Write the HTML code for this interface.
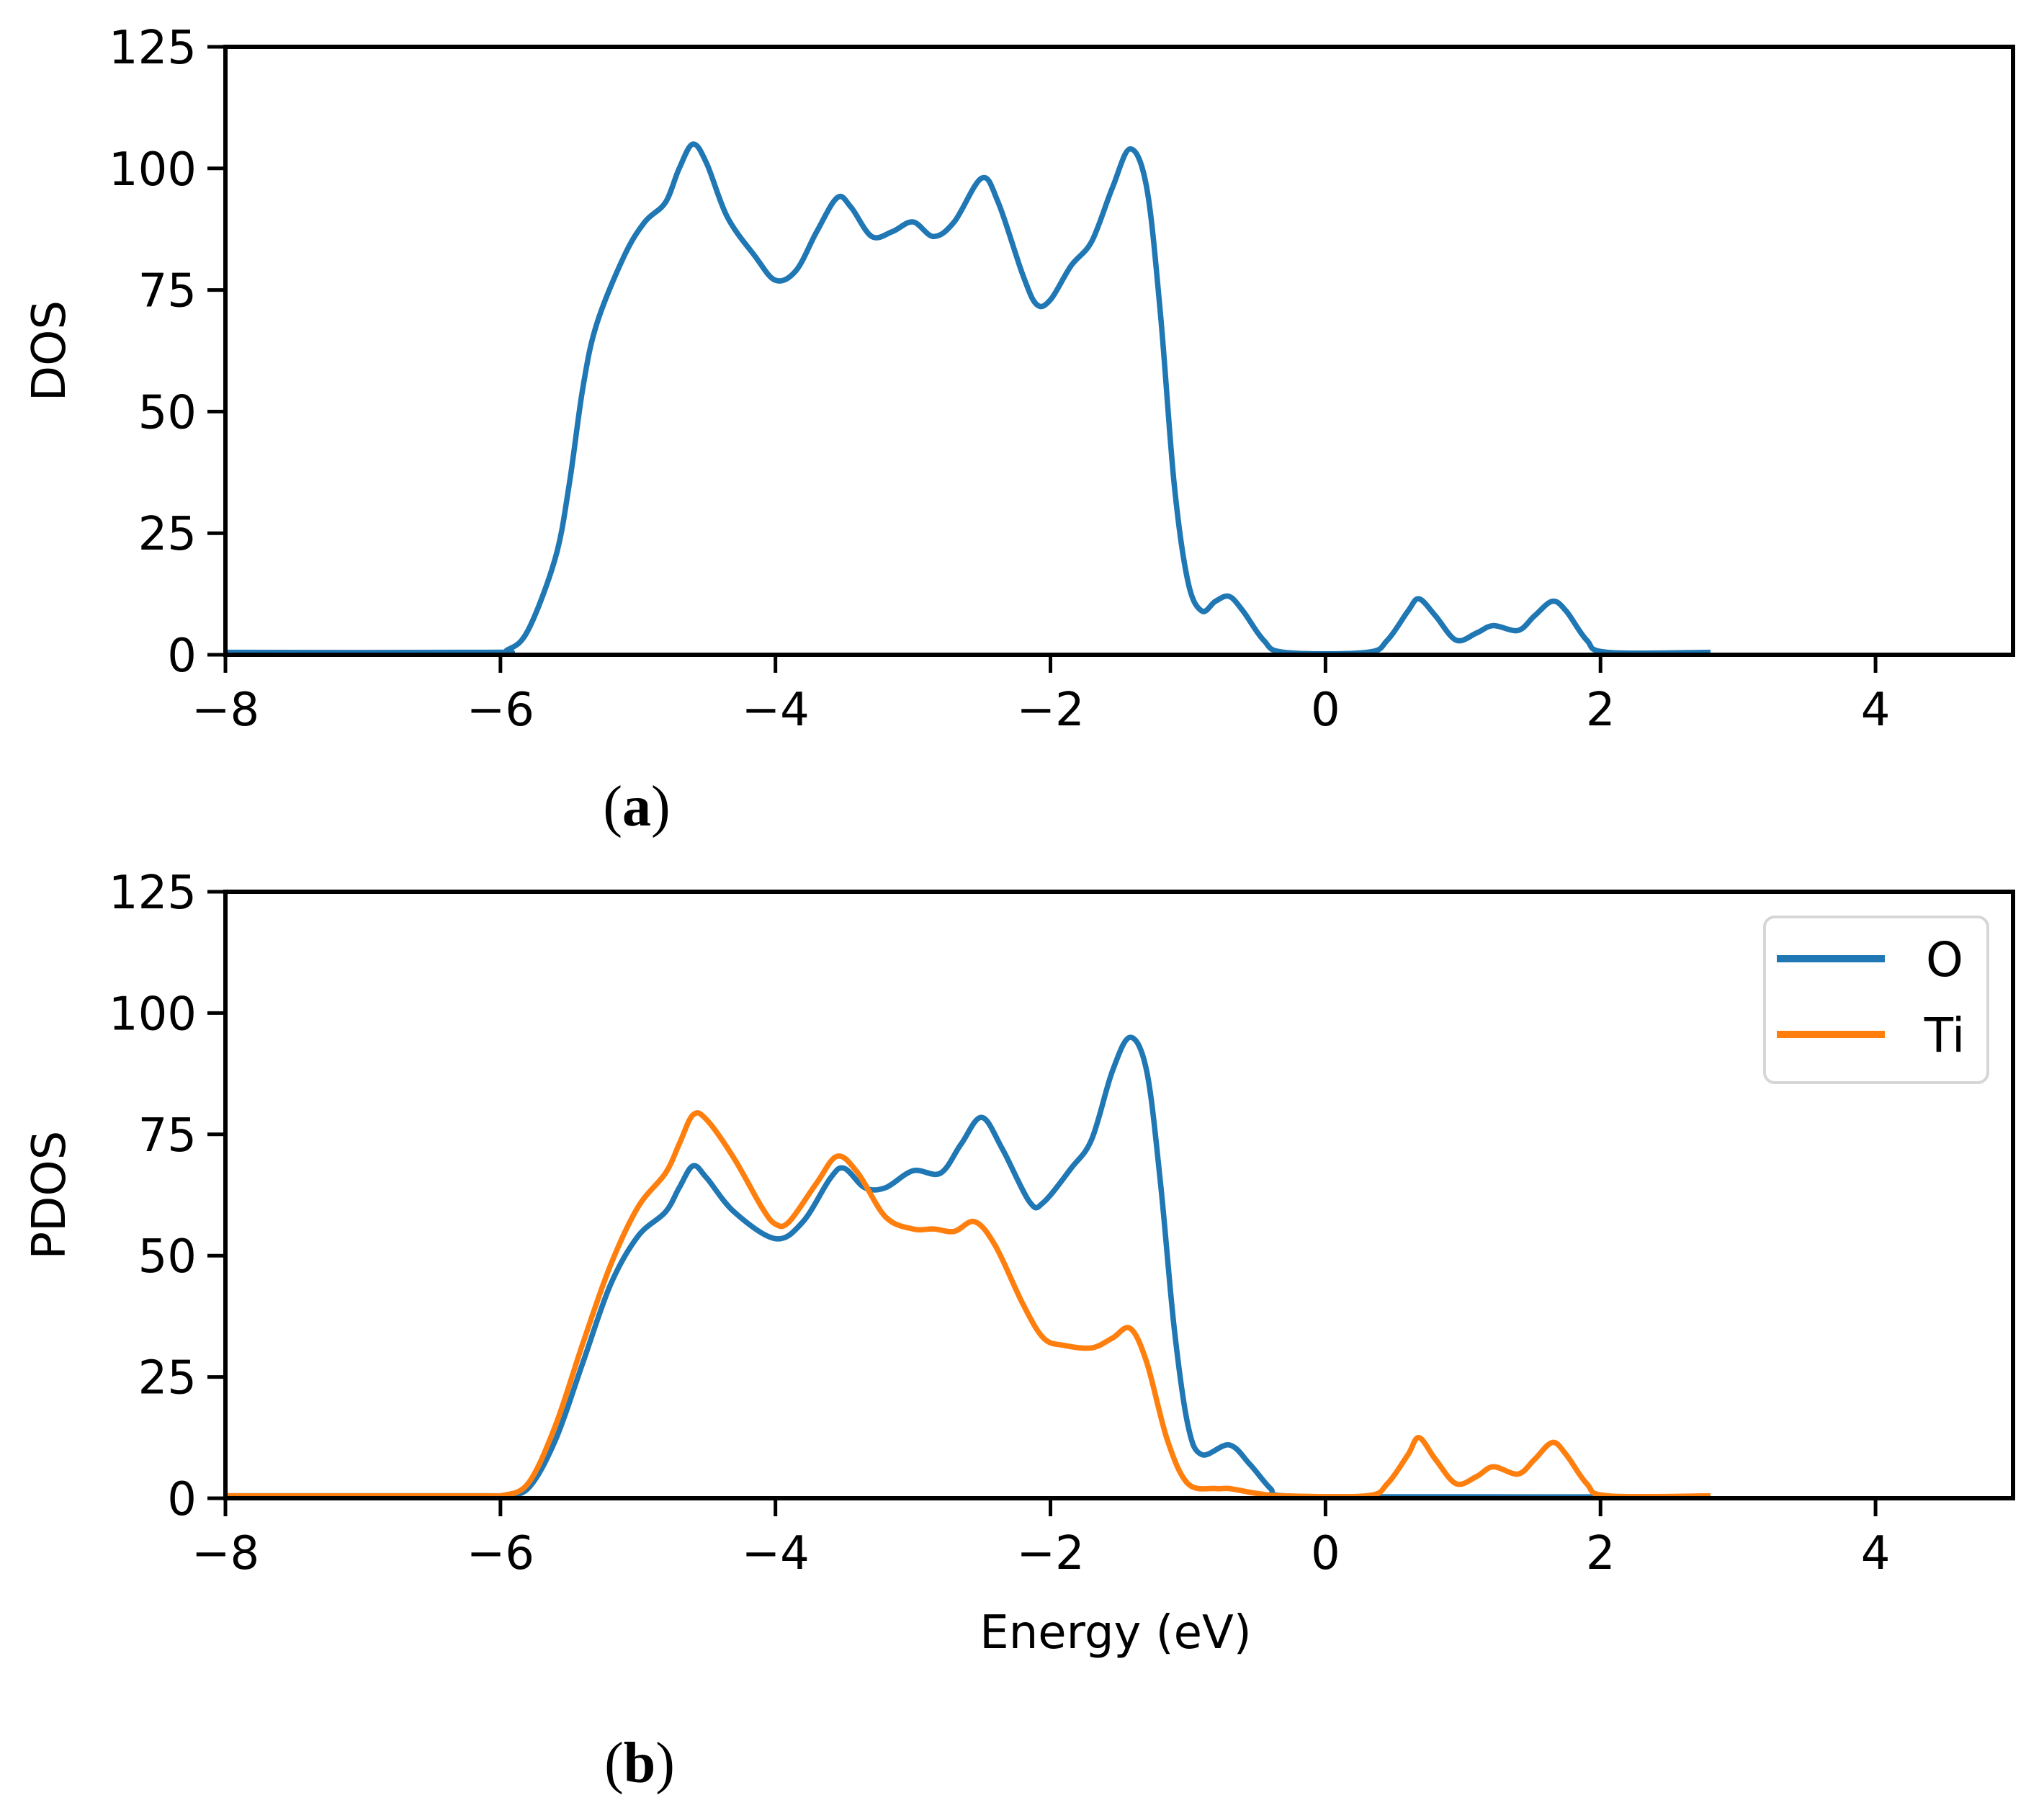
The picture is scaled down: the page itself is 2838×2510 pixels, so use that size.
<!DOCTYPE html>
<html><head><meta charset="utf-8"><style>
body{margin:0;background:#fff}
svg{display:block}
text{font-family:"DejaVu Sans","Liberation Sans",sans-serif;fill:#000}
</style></head><body>
<svg id="chart" width="2838" height="2510" viewBox="0 0 2838 2510" xmlns="http://www.w3.org/2000/svg">
<g id="pa"></g>
<g id="pb"></g>
<text x="884" y="1146" text-anchor="middle" style="font-family:'Liberation Serif',serif;font-size:80px">(<tspan font-weight="bold">a</tspan>)</text>
<text x="888" y="2474" text-anchor="middle" style="font-family:'Liberation Serif',serif;font-size:80px">(<tspan font-weight="bold">b</tspan>)</text>
</svg>
<script>
const xTicks=[-8,-6,-4,-2,0,2,4];
const yTicks=[0,25,50,75,100,125];
const dosE=[-8,-6.1,-5.95,-5.8,-5.6,-5.5,-5.4,-5.3,-5.1,-4.95,-4.8,-4.7,-4.6,-4.5,-4.35,-4.15,-4.0,-3.85,-3.7,-3.55,-3.45,-3.3,-3.15,-3.0,-2.85,-2.7,-2.5,-2.38,-2.2,-2.1,-2.0,-1.85,-1.7,-1.55,-1.42,-1.3,-1.2,-1.1,-1.0,-0.9,-0.8,-0.7,-0.6,-0.45,-0.3,0.3,0.45,0.6,0.68,0.8,0.95,1.1,1.22,1.4,1.52,1.65,1.75,1.9,2.05,2.8];
const dosV=[0.5,0.5,1,5,20,35,55,68,82,89,93,100,105,101,90,82,77,79,87,94,92,86,87,89,86,89,98,93,78,72,73,80,85,96,104,96,70,35,15,9,11,12,9,3,0.5,0.5,3,9,11.5,8,3,4.5,6,5,8,11,9,3,0.5,0.5];
const tiE=[-8,-6.1,-6,-5.8,-5.6,-5.4,-5.2,-5.0,-4.8,-4.7,-4.6,-4.5,-4.3,-4.1,-4.0,-3.9,-3.7,-3.55,-3.4,-3.2,-3.0,-2.85,-2.7,-2.55,-2.4,-2.2,-2.05,-1.9,-1.7,-1.55,-1.42,-1.3,-1.15,-1.0,-0.8,-0.7,-0.5,-0.3,0.3,0.45,0.6,0.68,0.8,0.95,1.1,1.22,1.4,1.52,1.65,1.75,1.9,2.05,2.8];
const tiV=[0.5,0.5,0.5,3,15,32,48,60,67,73,79,78,70,60,56.5,57,65,70.5,67,58,55.5,55.5,55,57,52,40,33,31.5,31,33,35,28,12,3,2,2,1,0.5,0.5,3,9,12.5,8,3,4.5,6.5,5,8,11.5,9,3,0.5,0.5];
const oE=[-8,-6.1,-6,-5.8,-5.6,-5.4,-5.2,-5.0,-4.8,-4.7,-4.6,-4.5,-4.3,-4.0,-3.8,-3.6,-3.5,-3.35,-3.2,-3.0,-2.8,-2.65,-2.5,-2.35,-2.15,-2.05,-1.85,-1.7,-1.55,-1.42,-1.3,-1.2,-1.1,-1.0,-0.9,-0.7,-0.55,-0.4,-0.3,0.5,2.8];
const oV=[0.5,0.5,0.5,2,12,28,44,54,59,64,68.5,66,59,53.5,57,66,68,64,64,67.5,67,73,78.5,72,61,61,68,74,88,95,88,65,35,15,9,11,7,2,0.5,0.3,0.3];

const NS="http://www.w3.org/2000/svg";
const L=313,R=2795,XMIN=-8,XMAX=5,YMAX=125;
function mk(p,tag,at){const e=document.createElementNS(NS,tag);for(const k in at)e.setAttribute(k,at[k]);p.appendChild(e);return e;}
function smooth(pts){let d=`M${pts[0][0]},${pts[0][1]}`;for(let i=0;i<pts.length-1;i++){const p0=pts[Math.max(0,i-1)],p1=pts[i],p2=pts[i+1],p3=pts[Math.min(pts.length-1,i+2)];
const c1=[p1[0]+(p2[0]-p0[0])/6,p1[1]+(p2[1]-p0[1])/6],c2=[p2[0]-(p3[0]-p1[0])/6,p2[1]-(p3[1]-p1[1])/6];d+=`C${c1[0]},${c1[1]} ${c2[0]},${c2[1]} ${p2[0]},${p2[1]}`;}return d;}
function panel(g,T,B,ylabel,series,xlabel){
  const sx=v=>L+(v-XMIN)/(XMAX-XMIN)*(R-L), sy=v=>B-v/YMAX*(B-T);
  series.forEach(s=>{
    const p=mk(g,'path',{d:smooth(s.e.map((e,i)=>[sx(e),sy(s.v[i])])),fill:'none',stroke:s.c,'stroke-width':7.5,'stroke-linejoin':'round'});
    
    
  });
  const f=mk(g,'rect',{x:L,y:T,width:R-L,height:B-T,fill:'none',stroke:'#000','stroke-width':6});
  
  
  xTicks.forEach(v=>{
    mk(g,'line',{x1:sx(v),x2:sx(v),y1:B,y2:B+25,stroke:'#000','stroke-width':5});
    const t=mk(g,'text',{x:sx(v),y:B+98,'text-anchor':'middle','font-size':64});
    t.textContent=(v<0?'\u2212':'')+Math.abs(v);
    
    
  });
  yTicks.forEach(v=>{
    mk(g,'line',{x1:L-25,x2:L,y1:sy(v),y2:sy(v),stroke:'#000','stroke-width':5});
    const t=mk(g,'text',{x:L-40,y:sy(v)+23,'text-anchor':'end','font-size':64});
    t.textContent=v;
    
    
  });
  const yl=mk(g,'text',{x:0,y:0,'text-anchor':'middle','font-size':64,transform:`translate(90,${(T+B)/2}) rotate(-90)`});
  yl.textContent=ylabel;
  
  
  if(xlabel){const xl=mk(g,'text',{x:(L+R)/2-5,y:B+208,'text-anchor':'middle','font-size':64});xl.textContent=xlabel;
    
    }
}
panel(document.getElementById('pa'),65,909,'DOS',[{e:dosE,v:dosV,c:'#1f77b4',n:'dos-line'}]);
const pb=document.getElementById('pb');
panel(pb,1238,2080,'PDOS',[{e:oE,v:oV,c:'#1f77b4',n:'o-pdos-line'},{e:tiE,v:tiV,c:'#ff7f0e',n:'ti-pdos-line'}],'Energy (eV)');
const lg=mk(pb,'g',{});


mk(lg,'rect',{x:2450,y:1273,width:310,height:230,rx:14,fill:'#fff',stroke:'#d6d6d6','stroke-width':4});
[['O','#1f77b4',1331],['Ti','#ff7f0e',1436]].forEach(([n,c,y])=>{
  const e=mk(lg,'g',{});
  
  
  mk(e,'line',{x1:2467,x2:2617,y1:y,y2:y,stroke:c,'stroke-width':10});
  const t=mk(e,'text',{x:2700,y:y+24,'text-anchor':'middle','font-size':66});t.textContent=n;
});
</script>
</body></html>
